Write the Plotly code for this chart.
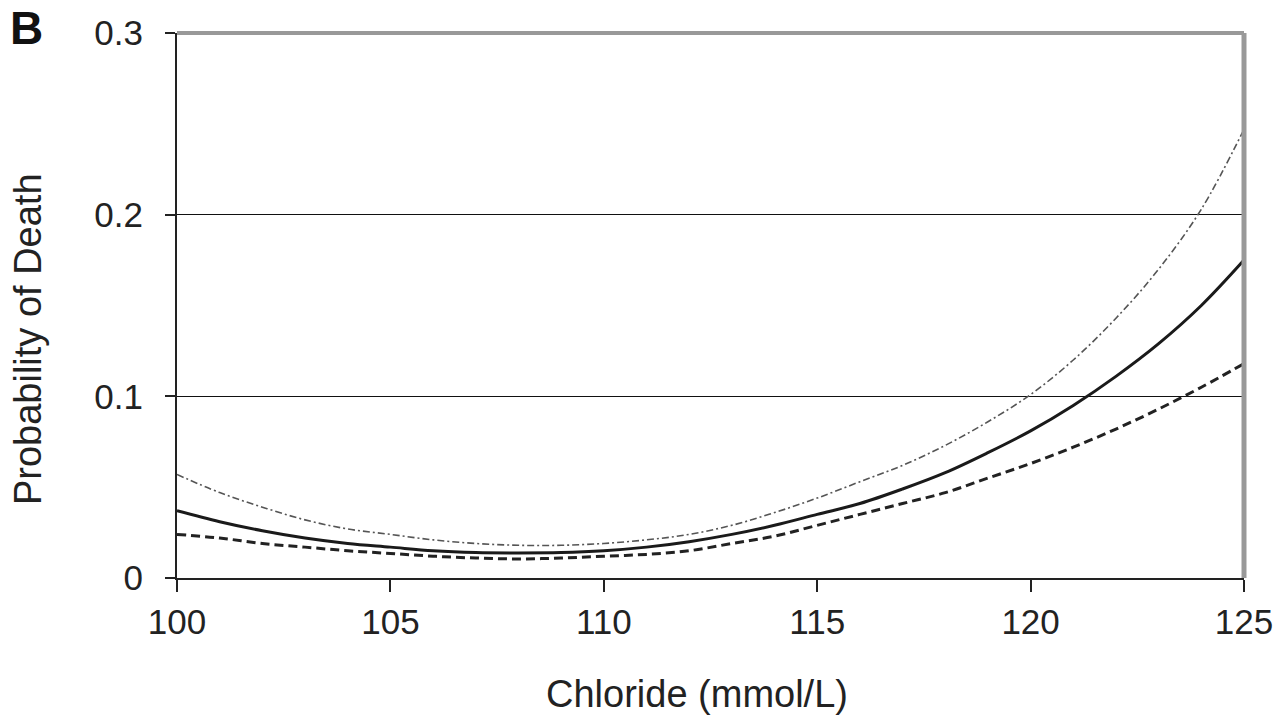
import plotly.graph_objects as go

chloride = list(range(100, 126))
estimate = [0.037, 0.031, 0.026, 0.022, 0.019, 0.017, 0.015, 0.014, 0.0138, 0.014,
            0.015, 0.017, 0.020, 0.024, 0.029, 0.035, 0.041, 0.049, 0.058, 0.069,
            0.081, 0.095, 0.111, 0.129, 0.150, 0.175]
upper = [0.057, 0.047, 0.039, 0.032, 0.027, 0.024, 0.021, 0.019, 0.018, 0.018,
         0.019, 0.021, 0.024, 0.029, 0.036, 0.044, 0.053, 0.062, 0.073, 0.086,
         0.101, 0.120, 0.143, 0.170, 0.203, 0.247]
lower = [0.024, 0.022, 0.019, 0.017, 0.015, 0.0135, 0.012, 0.011, 0.0105, 0.011,
         0.012, 0.013, 0.015, 0.019, 0.023, 0.029, 0.035, 0.041, 0.047, 0.055,
         0.063, 0.072, 0.082, 0.093, 0.105, 0.118]

x_ticks = [100, 105, 110, 115, 120, 125]
y_ticks = [0, 0.1, 0.2, 0.3]
y_tick_labels = ["0", "0.1", "0.2", "0.3"]
x_title = "Chloride (mmol/L)"
y_title = "Probability of Death"
panel_label = "B"

font_family = "Liberation Sans, Arial, sans-serif"

fig = go.Figure()
fig.add_trace(go.Scatter(x=chloride, y=upper, mode="lines", line_shape="spline",
                         line=dict(color="#555555", width=1.6, dash="7px,3px,2px,3px"),
                         showlegend=False))
fig.add_trace(go.Scatter(x=chloride, y=lower, mode="lines", line_shape="spline",
                         line=dict(color="#222222", width=3, dash="9px,5px"),
                         showlegend=False))
fig.add_trace(go.Scatter(x=chloride, y=estimate, mode="lines", line_shape="spline",
                         line=dict(color="#1a1a1a", width=3),
                         showlegend=False))

fig.update_layout(
    width=1276, height=716,
    margin=dict(l=177, r=32, t=33, b=138, autoexpand=False),
    paper_bgcolor="white", plot_bgcolor="white",
    font=dict(family=font_family, size=35, color="#222222"),
    xaxis=dict(range=[100, 125], tickvals=x_ticks, ticks="outside", ticklen=12,
               tickwidth=2, tickcolor="#222222", showline=True, linecolor="#222222",
               linewidth=2, showgrid=False, zeroline=False, automargin=False,
               tickfont=dict(size=35), ticklabelstandoff=0),
    yaxis=dict(range=[0, 0.3], tickvals=y_ticks, ticktext=y_tick_labels,
               ticks="outside", ticklen=10, tickwidth=2, tickcolor="#222222",
               showline=True, linecolor="#222222", linewidth=2, automargin=False,
               showgrid=True, gridcolor="#111111", gridwidth=1, zeroline=False,
               tickfont=dict(size=35), ticklabelstandoff=15),
    shapes=[
        dict(type="line", xref="paper", yref="paper", x0=0, x1=1, y0=1, y1=1,
             line=dict(color="#999999", width=4)),
        dict(type="line", xref="paper", yref="paper", x0=1, x1=1, y0=0, y1=1,
             line=dict(color="#999999", width=5)),
    ],
    annotations=[
        dict(text="<b>" + panel_label + "</b>", xref="paper", yref="paper",
             x=-0.1406, y=1.010, xanchor="center", yanchor="middle", showarrow=False,
             font=dict(size=46, color="#111111")),
        dict(text=x_title, xref="paper", yref="paper", x=0.4869, y=-0.2128,
             xanchor="center", yanchor="middle", showarrow=False,
             font=dict(size=38, color="#222222")),
        dict(text=y_title, xref="paper", yref="paper", x=-0.1396, y=0.4385,
             xanchor="center", yanchor="middle", showarrow=False, textangle=-90,
             font=dict(size=38, color="#222222")),
    ],
)

fig.write_html("out.html", config={"displayModeBar": False},
               post_script="document.body.style.margin='0';")
